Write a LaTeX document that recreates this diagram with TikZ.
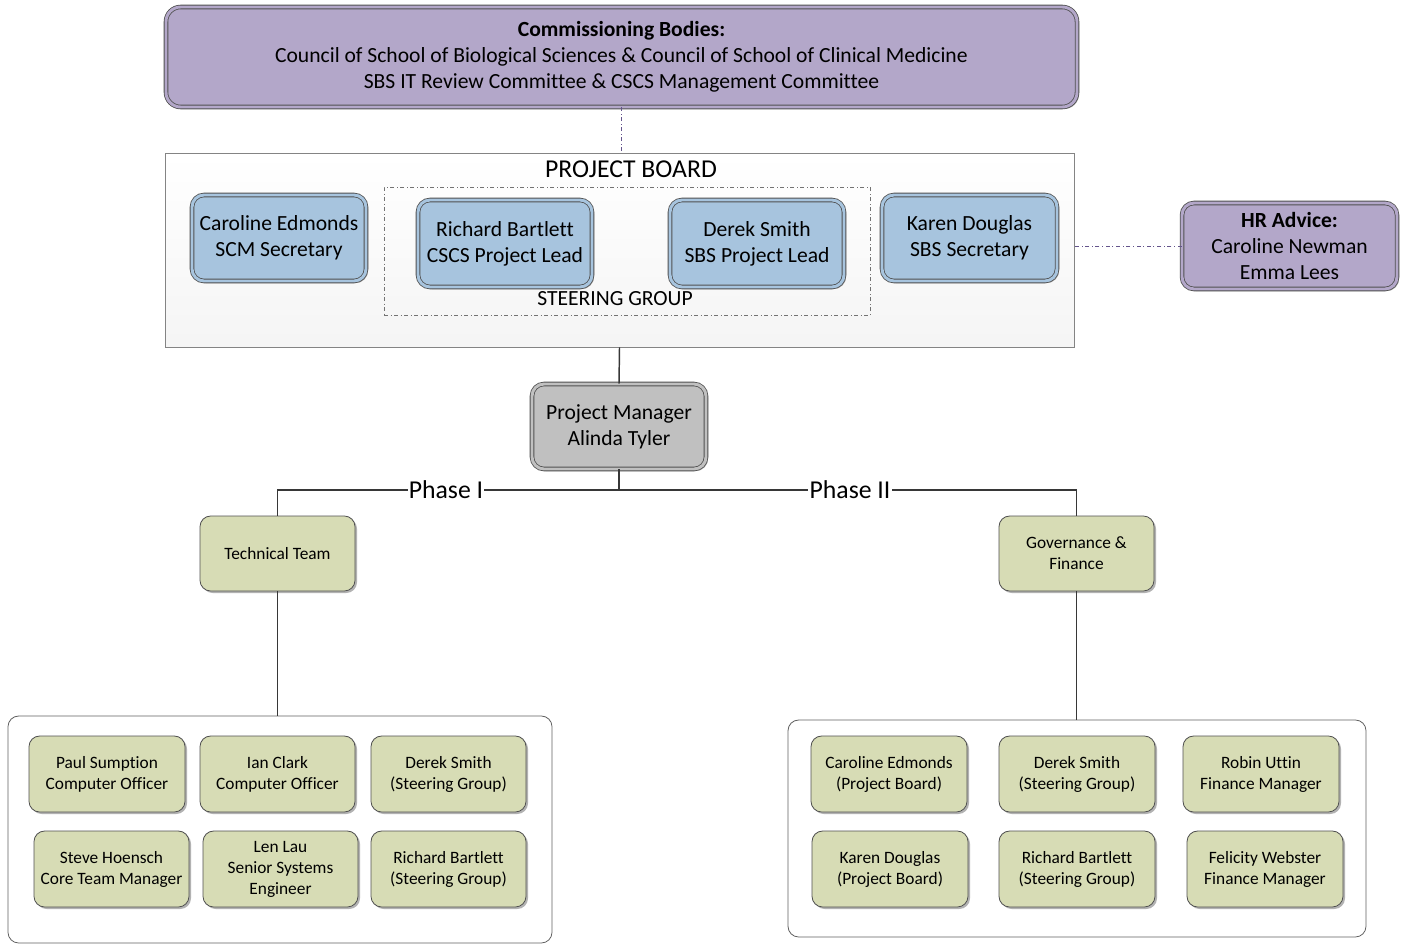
\documentclass[tikz,border=0pt]{standalone}
\usepackage{fontspec}
\setmainfont{Carlito}[Ligatures=NoCommon]
\usetikzlibrary{shadows}
\definecolor{purp}{RGB}{179,167,201}
\definecolor{blu}{RGB}{167,196,222}
\definecolor{grn}{RGB}{215,220,181}
\definecolor{pmg}{RGB}{192,192,192}
\definecolor{edge}{RGB}{80,80,80}
\definecolor{conn}{RGB}{55,55,55}
\definecolor{hrline}{RGB}{100,85,140}
\tikzset{
  shad/.style={drop shadow={shadow xshift=1.5pt, shadow yshift=-1.5pt, opacity=0.3, fill=black}},
  dblbox/.style={rectangle, rounded corners=9pt, draw=edge, line width=0.6pt, double=#1, double distance=2.2pt, fill=#1, shad, align=center, inner sep=0pt},
  grnbox/.style={rectangle, rounded corners=8pt, draw=edge, line width=0.6pt, fill=grn, shad, align=center, inner sep=0pt, font=\fontsize{13}{15.8}\selectfont},
  midtxt/.style={font=\fontsize{16.2}{19.5}\selectfont},
  container/.style={rectangle, rounded corners=8pt, draw=edge!90, line width=0.6pt, fill=white, inner sep=0pt},
  conline/.style={draw=conn, line width=1.1pt},
  phaselbl/.style={fill=white, inner sep=1pt, font=\fontsize{19.3}{22}\selectfont},
}
\newcommand\bx[7]{\node[#6, minimum width={(#4-#2)*0.75pt}, minimum height={(#5-#3)*0.75pt}] (#1) at ({(#2+#4)/2},{(#3+#5)/2}) {#7};}
\begin{document}
\begin{tikzpicture}[x=0.75pt,y=-0.75pt]
\useasboundingbox (0,0) rectangle (1405,945);
% commissioning bodies
\bx{top}{166}{7}{1077}{107}{dblbox=purp, rounded corners=11pt, midtxt}{\textbf{Commissioning Bodies:}\\Council of School of Biological Sciences \& Council of School of Clinical Medicine\\SBS IT Review Committee \& CSCS Management Committee}
% project board
\bx{board}{165}{153}{1074}{347}{rectangle, draw=edge!70, line width=0.6pt, top color=white, bottom color=gray!8, inner sep=0pt}{}
\node[font=\fontsize{19.3}{22}\selectfont] (boardlbl) at (631,169) {PROJECT BOARD};
\bx{steer}{384}{187}{870}{315}{rectangle, draw=edge!80, line width=0.5pt, dash dot, inner sep=0pt}{}
\node[font=\fontsize{16.2}{19}\selectfont] (steerlbl) at (615,299) {STEERING GROUP};
\bx{ce}{192}{195}{366}{281}{dblbox=blu, midtxt}{Caroline Edmonds\\SCM Secretary}
\bx{rb}{418}{200}{592}{287}{dblbox=blu, midtxt}{Richard Bartlett\\CSCS Project Lead}
\bx{ds}{670}{200}{844}{287}{dblbox=blu, midtxt}{Derek Smith\\SBS Project Lead}
\bx{kd}{882}{195}{1057}{281}{dblbox=blu, midtxt}{Karen Douglas\\SBS Secretary}
% HR
\bx{hr}{1182}{203}{1397}{289}{dblbox=purp, midtxt}{\textbf{HR Advice:}\\Caroline Newman\\Emma Lees}
% PM
\bx{pm}{532}{384}{706}{469}{dblbox=pmg, midtxt}{Project Manager\\Alinda Tyler}
% teams
\bx{tech}{200}{516}{355}{591}{grnbox}{Technical Team}
\bx{gov}{999}{516}{1154}{591}{grnbox}{Governance \&\\Finance}
% containers
\bx{leftc}{8}{716}{552}{943}{container}{}
\bx{rightc}{788}{720}{1366}{937}{container}{}
% left members
\bx{l1}{29}{736}{185}{812}{grnbox}{Paul Sumption\\Computer Officer}
\bx{l2}{200}{736}{355}{812}{grnbox}{Ian Clark\\Computer Officer}
\bx{l3}{371}{736}{526}{812}{grnbox}{Derek Smith\\(Steering Group)}
\bx{l4}{34}{831}{189}{907}{grnbox}{Steve Hoensch\\Core Team Manager}
\bx{l5}{203}{831}{358}{907}{grnbox}{Len Lau\\Senior Systems\\Engineer}
\bx{l6}{371}{831}{526}{907}{grnbox}{Richard Bartlett\\(Steering Group)}
% right members
\bx{r1}{811}{736}{967}{812}{grnbox}{Caroline Edmonds\\(Project Board)}
\bx{r2}{999}{736}{1155}{812}{grnbox}{Derek Smith\\(Steering Group)}
\bx{r3}{1183}{736}{1339}{812}{grnbox}{Robin Uttin\\Finance Manager}
\bx{r4}{812}{831}{968}{907}{grnbox}{Karen Douglas\\(Project Board)}
\bx{r5}{999}{831}{1155}{907}{grnbox}{Richard Bartlett\\(Steering Group)}
\bx{r6}{1187}{831}{1343}{907}{grnbox}{Felicity Webster\\Finance Manager}
% connectors
\draw[draw=hrline, line width=0.5pt, dash dot] (top.south) -- (top.south |- board.north);
\draw[draw=hrline, line width=0.7pt, dash dot] (hr.west) -- (hr.west -| board.east);
\draw[conline] (board.south) -- (pm.north);
\coordinate (bus) at (620,490);
\draw[conline] (pm.south) -- (pm.south |- bus);
\draw[conline] (tech.north) -- (tech.north |- bus) -- (gov.north |- bus) -- (gov.north);
\node[phaselbl] (ph1) at (446,490) {Phase I};
\node[phaselbl] (ph2) at (850,490) {Phase II};
\draw[conline] (tech.south) -- (tech.south |- leftc.north);
\draw[conline] (gov.south) -- (gov.south |- rightc.north);
\end{tikzpicture}
\end{document}
